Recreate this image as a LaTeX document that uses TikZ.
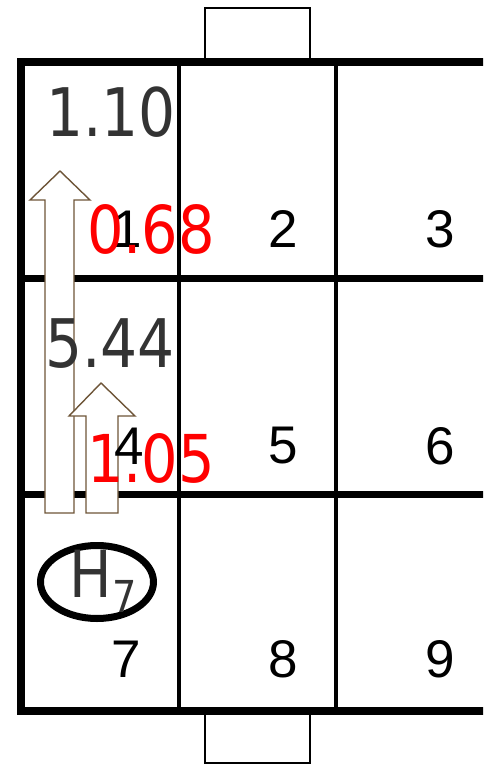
\documentclass[tikz,border=0pt]{standalone}
\usepackage{fontspec}
\usetikzlibrary{positioning}
\newfontfamily\valfont[FakeStretch=0.87]{DejaVu Sans}
\newfontfamily\cellfont{Liberation Sans}
\definecolor{valgray}{HTML}{333333}
\definecolor{flow}{HTML}{6E5538}

\begin{document}
\begin{tikzpicture}[x=1pt,y=-1pt,
    wall/.style={line width=8pt,line join=miter},
    beam/.style={line width=7pt},
    post/.style={line width=4pt},
    door/.style={draw,fill=white,line width=2pt},
    flowarrow/.style={draw=flow,fill=white,line width=1.4pt,line join=miter},
    cellnum/.style={inner sep=0pt,font=\cellfont\fontsize{53}{53}\selectfont},
    val/.style={inner sep=0pt,text=valgray,font=\valfont\fontsize{67}{67}\selectfont},
    loss/.style={inner sep=0pt,text=red,font=\valfont\fontsize{66}{66}\selectfont}
]
\useasboundingbox (0,0) rectangle (483,765);
\clip (0,0) rectangle (483,765);

% Doors above and below
\draw[door] (205,62) rectangle (310,8);
\draw[door] (205,711) rectangle (310,763);

% Grid
\draw[post] (179,62) -- (179,711);
\draw[post] (336,62) -- (336,711);
\draw[beam] (21,278) -- (600,278);
\draw[beam] (21,494) -- (600,494);
\draw[wall] (600,62) -- (21,62) -- (21,711) -- (600,711);

% Flow arrows
\draw[flowarrow] (45,513) -- (45,200) -- (30,200) -- (60,171) -- (90,200) -- (74,200) -- (74,513) -- cycle;
\draw[flowarrow] (86,513) -- (86,416) -- (69,416) -- (101,383) -- (135,416) -- (118,416) -- (118,513) -- cycle;

% Cell numbers
\foreach \n/\x/\y in {1/127/229, 2/283/229, 3/440/229,
                      4/129/446, 5/283/446, 6/440/446,
                      7/126/659, 8/283/659, 9/440/659} {
    \node[cellnum] (cell\n) at (\x,\y) {\n};
}

% Values
\node[val] (val1) at (111,112) {1.10};
\node[val] (val4) at (110,344) {5.44};
\node[loss] (loss1) at (151,229) {0.68};
\node[loss] (loss4) at (151,458) {1.05};

% Station
\draw[line width=7pt] (97,582) ellipse [x radius=56.5pt, y radius=36.5pt];
\node[val,font=\valfont\fontsize{65}{65}\selectfont] (h7) at (103,581) {H\raisebox{-15pt}{\fontsize{44}{44}\selectfont 7}};
\end{tikzpicture}
\end{document}
